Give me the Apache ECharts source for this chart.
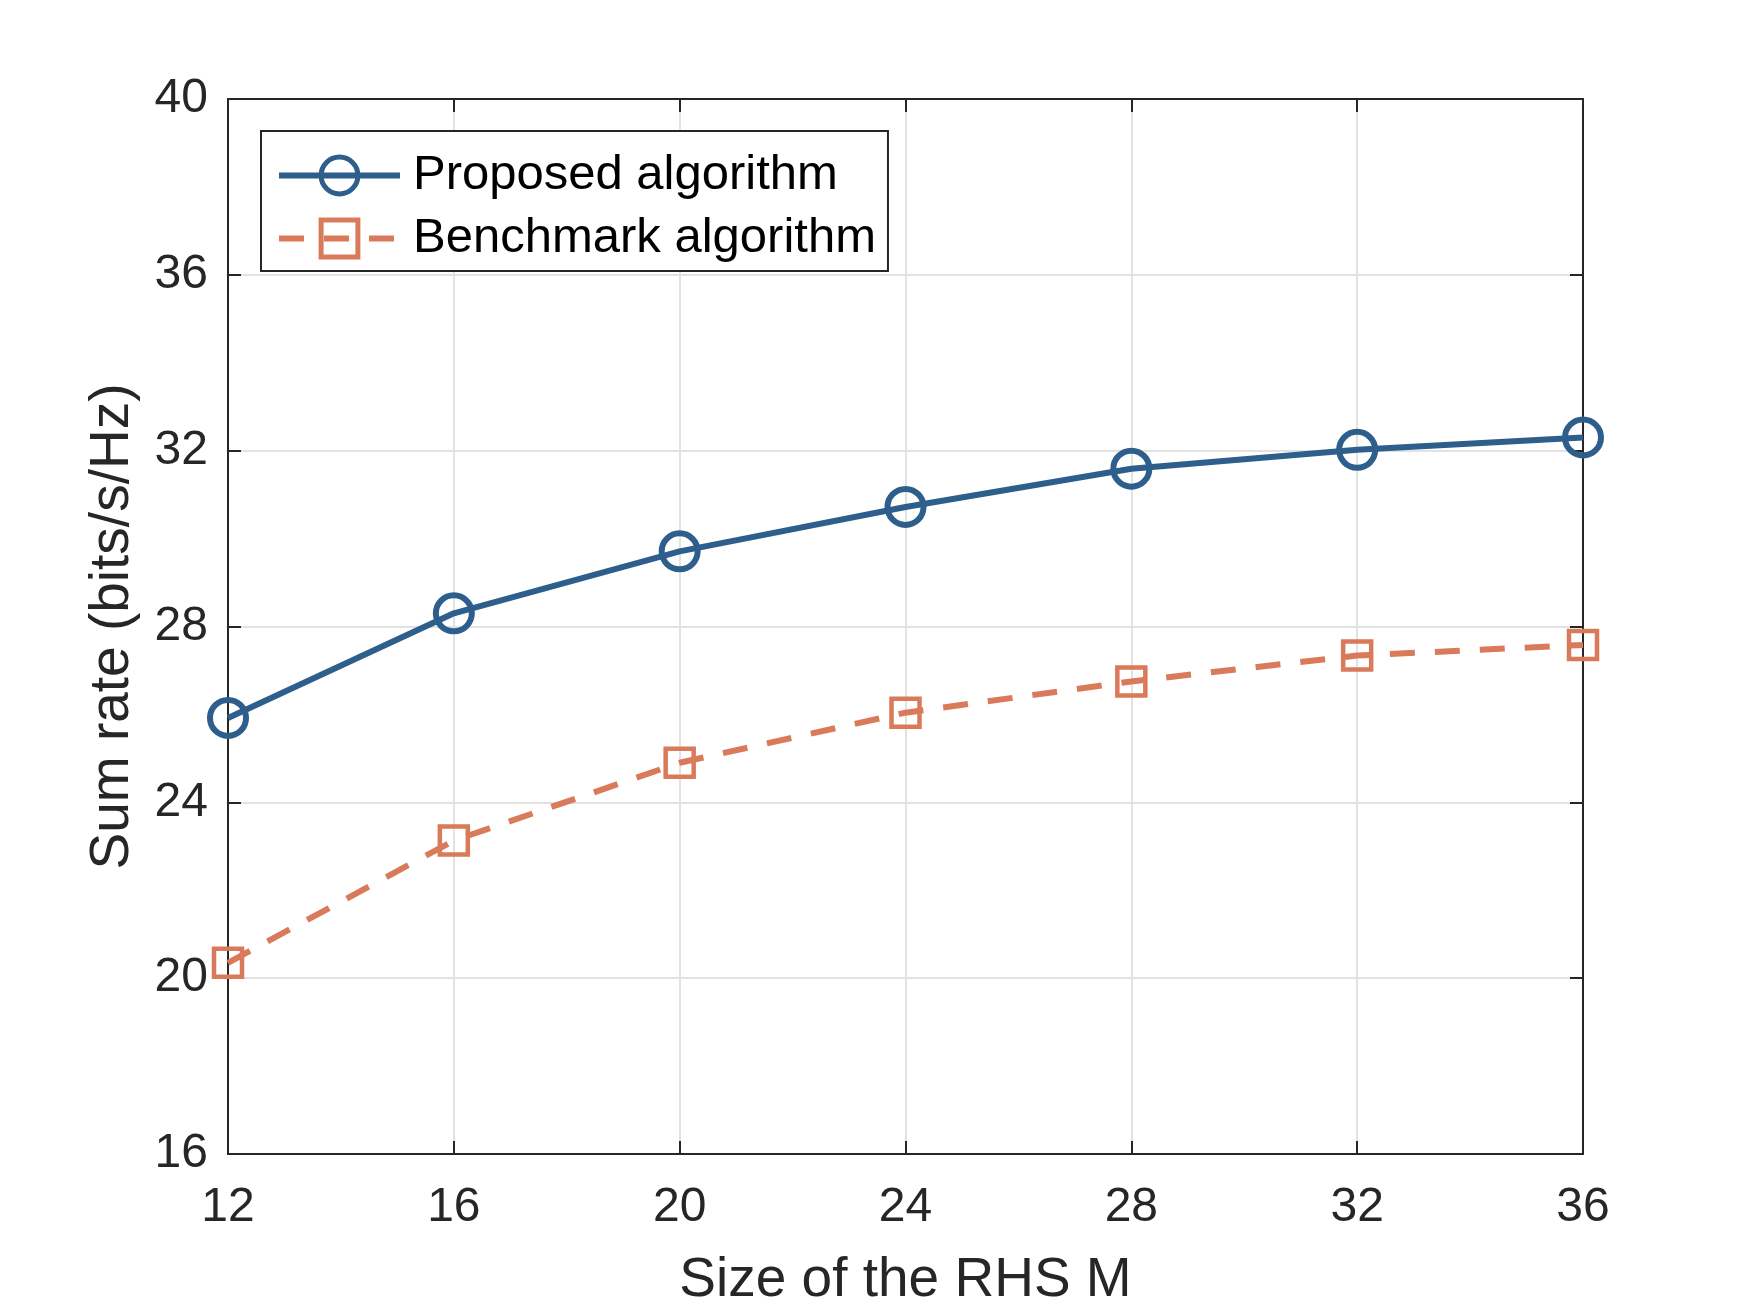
<!DOCTYPE html>
<html style="height: 100%">

<head>
    <meta charset="utf-8">
</head>

<body style="height: 100%; margin: 0; background: #fff">
<div id="container" style="height: 100%"></div>
<script type="text/javascript" src="https://cdn.jsdelivr.net/npm/echarts@6/dist/echarts.min.js"></script>
<script type="text/javascript">
    // values
    var sizeM = [12, 16, 20, 24, 28, 32, 36];
    var proposed = [25.92, 28.30, 29.71, 30.72, 31.59, 32.02, 32.30];
    var benchmark = [20.35, 23.13, 24.90, 26.04, 26.75, 27.34, 27.58];
    var seriesNames = ['Proposed algorithm', 'Benchmark algorithm'];

    var blue = '#2E5E8B';
    var orange = '#D97A5A';
    var axisColor = '#262626';
    var font = 'Liberation Sans, Arial, sans-serif';

    function pairs(ys) {
        var out = [];
        for (var i = 0; i < sizeM.length; i++) {
            out.push([sizeM[i], ys[i]]);
        }
        return out;
    }

    var dom = document.getElementById("container");
    var myChart = echarts.init(dom);
    var option = null;

    var tickStyle = {show: true, inside: true, length: 13, lineStyle: {color: axisColor, width: 2}};
    var lineAxis = {show: true, lineStyle: {color: axisColor, width: 2}};

    option = {
        backgroundColor: '#fff',
        animation: false,
        grid: {
            left: 228, right: 167, top: 99, bottom: 154
        },
        legend: {
            orient: 'vertical',
            left: 261,
            top: 131,
            padding: [20, 12, 8, 15],
            itemGap: 14,
            itemWidth: 121,
            itemHeight: 46,
            borderColor: axisColor,
            borderWidth: 2,
            backgroundColor: '#fff',
            itemStyle: {borderWidth: 5},
            lineStyle: {width: 6},
            textStyle: {
                fontFamily: font,
                fontSize: 49,
                color: '#000',
                padding: [0, 0, 0, 8]
            },
            data: seriesNames
        },
        xAxis: [{
            type: 'value',
            min: 12, max: 36, interval: 4,
            name: 'Size of the RHS M',
            nameLocation: 'middle',
            nameGap: 99,
            nameTextStyle: {fontFamily: font, fontSize: 55, color: axisColor},
            axisLine: lineAxis,
            axisTick: tickStyle,
            axisLabel: {fontFamily: font, fontSize: 48, color: axisColor, margin: 30},
            splitLine: {show: true, lineStyle: {color: '#e2e2e2', width: 2}}
        }, {
            type: 'value',
            position: 'top',
            min: 12, max: 36, interval: 4,
            axisLine: lineAxis,
            axisTick: tickStyle,
            axisLabel: {show: false},
            splitLine: {show: false}
        }],
        yAxis: [{
            type: 'value',
            min: 16, max: 40, interval: 4,
            name: 'Sum rate (bits/s/Hz)',
            nameLocation: 'middle',
            nameGap: 88,
            nameTextStyle: {fontFamily: font, fontSize: 55, color: axisColor},
            axisLine: lineAxis,
            axisTick: tickStyle,
            axisLabel: {fontFamily: font, fontSize: 48, color: axisColor, margin: 20},
            splitLine: {show: true, lineStyle: {color: '#e2e2e2', width: 2}}
        }, {
            type: 'value',
            position: 'right',
            min: 16, max: 40, interval: 4,
            axisLine: lineAxis,
            axisTick: tickStyle,
            axisLabel: {show: false},
            splitLine: {show: false}
        }],
        series: [{
            name: seriesNames[0],
            type: 'line',
            data: pairs(proposed),
            clip: false,
            symbol: 'circle',
            symbolSize: 36,
            lineStyle: {color: blue, width: 6},
            itemStyle: {color: 'rgba(255,255,255,0)', borderColor: blue, borderWidth: 6}
        }, {
            name: seriesNames[1],
            type: 'line',
            data: pairs(benchmark),
            clip: false,
            symbol: 'rect',
            symbolSize: 28,
            lineStyle: {color: orange, width: 6, type: [25, 20]},
            itemStyle: {color: 'rgba(255,255,255,0)', borderColor: orange, borderWidth: 4.5}
        }]
    };
    if (option && typeof option === "object") {
        myChart.setOption(option, true);
    }
</script>
</body>

</html>
